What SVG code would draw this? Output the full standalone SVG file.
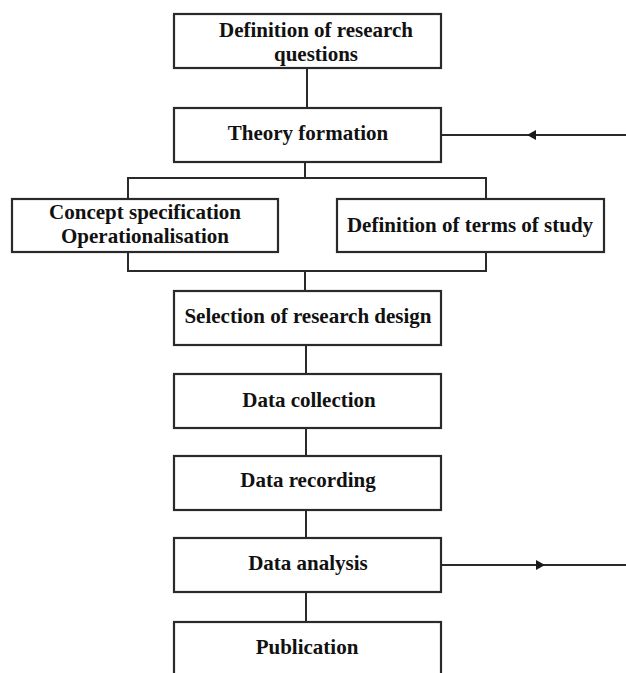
<svg xmlns="http://www.w3.org/2000/svg" width="626" height="673" viewBox="0 0 626 673">
<defs>
<style>
.box{fill:#fff;stroke:#2a2a2a;stroke-width:2.2}
.lbl{font-family:"Liberation Serif","Times New Roman",serif;font-weight:bold;font-size:21px;fill:#111;text-anchor:middle}
.con{fill:none;stroke:#2a2a2a;stroke-width:2}
</style>
<marker id="ah" markerUnits="userSpaceOnUse" markerWidth="10" markerHeight="11" refX="9" refY="5.5" orient="auto" viewBox="0 0 10 11">
<path d="M0,0.5 L9,5.5 L0,10.5 z" fill="#1a1a1a"/>
</marker>
</defs>
<rect width="626" height="673" fill="#fff"/>
<g id="connectors">
<path class="con" d="M307,67 V108"/>
<path class="con" d="M305,161 V178 M128,198 V178 H486 V198"/>
<path class="con" d="M128,252 V271 H486 V252 M305,271 V290"/>
<path class="con" d="M306,344 V373"/>
<path class="con" d="M306,427 V455"/>
<path class="con" d="M306,509 V538"/>
<path class="con" d="M306,592 V622"/>
<path class="con" d="M626,135 L527,135 L441,135" marker-mid="url(#ah)"/>
<path class="con" d="M441,565 L545,565 L626,565" marker-mid="url(#ah)"/>
</g>
<g id="n1"><rect class="box" x="174" y="14" width="267" height="54"/><text class="lbl" x="316" y="37">Definition of research</text><text class="lbl" x="316" y="61">questions</text></g>
<g id="n2"><rect class="box" x="174" y="108" width="267" height="54"/><text class="lbl" x="308" y="140">Theory formation</text></g>
<g id="n3"><rect class="box" x="12" y="199" width="266" height="53"/><text class="lbl" x="145" y="219">Concept specification</text><text class="lbl" x="145" y="243">Operationalisation</text></g>
<g id="n4"><rect class="box" x="337" y="199" width="267" height="53"/><text class="lbl" x="470" y="232">Definition of terms of study</text></g>
<g id="n5"><rect class="box" x="174" y="291" width="267" height="54"/><text class="lbl" x="308" y="323">Selection of research design</text></g>
<g id="n6"><rect class="box" x="174" y="374" width="267" height="54"/><text class="lbl" x="309" y="407">Data collection</text></g>
<g id="n7"><rect class="box" x="174" y="456" width="267" height="54"/><text class="lbl" x="308" y="487">Data recording</text></g>
<g id="n8"><rect class="box" x="174" y="538" width="267" height="54"/><text class="lbl" x="308" y="570">Data analysis</text></g>
<g id="n9"><rect class="box" x="174" y="622" width="267" height="60"/><text class="lbl" x="307" y="654">Publication</text></g>
</svg>
